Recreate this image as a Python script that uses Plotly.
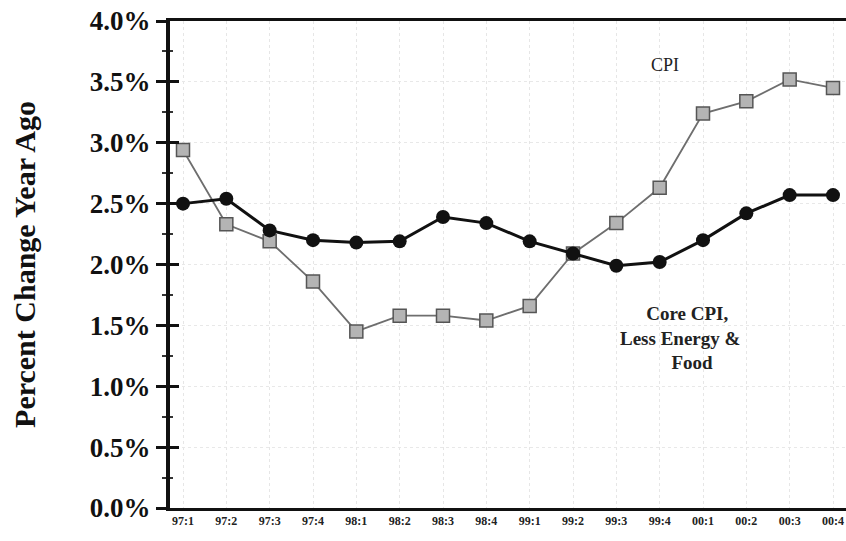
import plotly.graph_objects as go

quarters = ["97:1", "97:2", "97:3", "97:4", "98:1", "98:2", "98:3", "98:4",
            "99:1", "99:2", "99:3", "99:4", "00:1", "00:2", "00:3", "00:4"]
cpi = [2.94, 2.33, 2.19, 1.86, 1.45, 1.58, 1.58, 1.54,
       1.66, 2.09, 2.34, 2.63, 3.24, 3.34, 3.52, 3.45]
core_cpi = [2.50, 2.54, 2.28, 2.20, 2.18, 2.19, 2.39, 2.34,
            2.19, 2.09, 1.99, 2.02, 2.20, 2.42, 2.57, 2.57]
y_ticks = [0.0, 0.5, 1.0, 1.5, 2.0, 2.5, 3.0, 3.5, 4.0]
y_tick_text = ["0.0%", "0.5%", "1.0%", "1.5%", "2.0%", "2.5%", "3.0%", "3.5%", "4.0%"]

SERIF = "Liberation Serif"
xs = list(range(len(quarters)))

fig = go.Figure()
fig.add_trace(go.Scatter(
    x=xs, y=cpi, mode="lines+markers", name="CPI",
    line=dict(color="#6e6e6e", width=1.8),
    marker=dict(symbol="square", size=13, color="#b4b4b4",
                line=dict(color="#555555", width=1.5)),
))
fig.add_trace(go.Scatter(
    x=xs, y=core_cpi, mode="lines+markers", name="Core CPI",
    line=dict(color="#111111", width=3),
    marker=dict(symbol="circle", size=14, color="#111111"),
))
# invisible trace on overlay axis to give it inside ticks
fig.add_trace(go.Scatter(x=[xs[0]], y=[y_ticks[0]], yaxis="y2", mode="markers",
                         marker=dict(opacity=0), showlegend=False, hoverinfo="skip"))

fig.update_layout(
    width=846, height=541,
    margin=dict(l=170, r=0, t=21, b=33),
    paper_bgcolor="white", plot_bgcolor="white",
    showlegend=False,
    font=dict(family=SERIF, color="#111111"),
    xaxis=dict(
        range=[-0.3, len(quarters) - 1 + 0.3],
        tickmode="array", tickvals=xs, ticktext=quarters,
        tickfont=dict(family=SERIF, size=12, color="#222222", weight="bold"),
        ticklabeloverflow="allow",
        showline=True, linecolor="#111111", linewidth=3, mirror=True,
        showgrid=True, gridcolor="#e6e6e6", griddash="dot", gridwidth=1,
        ticks="", zeroline=False,
    ),
    yaxis=dict(
        range=[0, 4.0],
        tickmode="array", tickvals=y_ticks, ticktext=y_tick_text,
        tickfont=dict(family=SERIF, size=27, color="#111111", weight="bold"),
        ticklabeloverflow="allow",
        showline=True, linecolor="#111111", linewidth=4,
        ticks="outside", ticklen=10, tickwidth=2.5, tickcolor="#111111",
        showgrid=True, gridcolor="#e8e8e8", griddash="dot", gridwidth=1,
        zeroline=False,
        title=dict(text="Percent Change Year Ago", standoff=46,
                   font=dict(family=SERIF, size=30, color="#111111", weight="bold")),
        minor=dict(ticks="outside", ticklen=4, tickwidth=2, tickcolor="#333333",
                   dtick=0.25, showgrid=False),
    ),
    yaxis2=dict(
        range=[0, 4.0], overlaying="y", side="left", anchor="x",
        tickmode="array", tickvals=y_ticks, showticklabels=False,
        ticks="inside", ticklen=9, tickwidth=2.5, tickcolor="#111111",
        showgrid=False, zeroline=False, showline=False,
        minor=dict(ticks="inside", ticklen=3, tickwidth=2, tickcolor="#333333",
                   dtick=0.25, showgrid=False),
    ),
    annotations=[
        dict(x=11.12, y=3.64, xref="x", yref="y", text="CPI", showarrow=False,
             font=dict(family=SERIF, size=18, color="#222222")),
        dict(x=11.47, y=1.40, xref="x", yref="y",
             text="\u00a0\u00a0\u00a0Core CPI,<br>Less Energy &amp;<br>\u00a0\u00a0\u00a0\u00a0\u00a0Food",
             showarrow=False, align="center",
             font=dict(family=SERIF, size=19, color="#222222", weight="bold")),
    ],
)

fig.write_html(
    "out.html",
    config={"displayModeBar": False},
    post_script="document.body.style.margin='0';document.body.style.overflow='hidden';",
)
